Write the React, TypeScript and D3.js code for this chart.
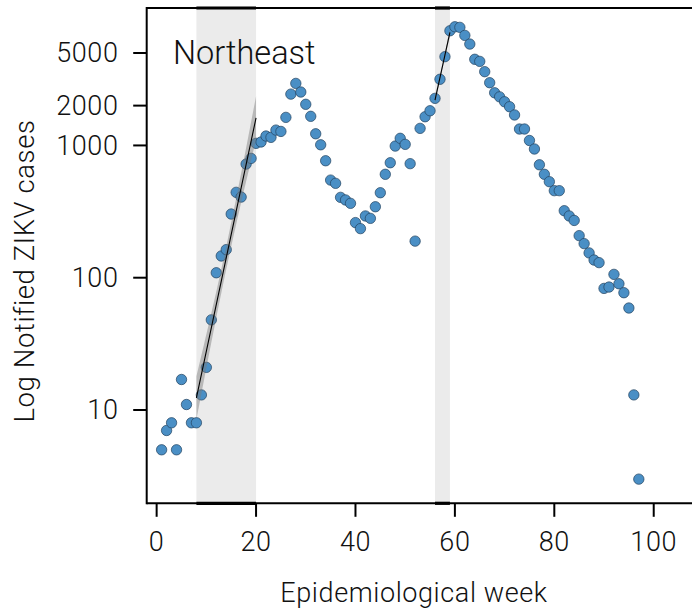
import React, { useEffect, useRef } from "react";
import * as d3 from "d3";

// ---- data ----
const weeks: number[] = d3.range(1, 98);
const cases: number[] = [
  5, 7, 8, 5, 17, 11, 8, 8, 13, 21,
  48, 109, 146, 163, 303, 442, 407, 723, 798, 1037,
  1062, 1178, 1151, 1306, 1276, 1630, 2443, 2944, 2534, 2046,
  1660, 1225, 1011, 766, 547, 517, 405, 387, 365, 261,
  235, 293, 281, 344, 439, 605, 740, 989, 1132, 1019,
  728, 189, 1346, 1648, 1829, 2270, 3164, 4688, 7360, 7890,
  7810, 6790, 5840, 4480, 4320, 3610, 2980, 2500, 2330, 2138,
  1962, 1700, 1331, 1331, 1090, 940, 714, 605, 532, 455,
  455, 321, 293, 271, 208, 181, 154, 136, 130, 83,
  85, 106, 90, 77, 59, 13, 3,
];
const fitStarts: number[] = [8, 56];
const fitEnds: number[] = [20, 59];
const xTicks: number[] = [0, 20, 40, 60, 80, 100];
const yTicks: number[] = [10, 100, 1000, 2000, 5000];
const regionLabel = "Northeast";
const xTitle = "Epidemiological week";
const yTitle = "Log Notified ZIKV cases";

const W = 692;
const H = 613;
const FONT = "Roboto, 'Liberation Sans', Arial, sans-serif";

export default function App() {
  const ref = useRef<SVGSVGElement | null>(null);

  useEffect(() => {
    const svg = d3.select(ref.current);
    svg.selectAll("*").remove();

    const left = 146.7, right = 692, top = 8, bottom = 503.3;
    const x = d3.scaleLinear().domain([-2, 107.7]).range([left, right]);
    const y = d3.scaleLog().domain([1.97, 10940]).range([bottom, top]);

    // shaded windows
    fitStarts.forEach((s, i) => {
      svg.append("rect")
        .attr("x", x(s)).attr("y", top)
        .attr("width", x(fitEnds[i]) - x(s)).attr("height", bottom - top)
        .attr("fill", "#ebebeb");
    });

    // points
    const data = weeks.map((w, i) => ({ w, c: cases[i] }));
    svg.append("g").selectAll("circle").data(data).join("circle")
      .attr("cx", (d) => x(d.w)).attr("cy", (d) => y(d.c)).attr("r", 5.2)
      .attr("fill", "#4a8fc5").attr("stroke", "#23425e").attr("stroke-width", 0.7);

    // regressions on log10 with 95% CI
    fitStarts.forEach((s, i) => {
      const e = fitEnds[i];
      const pts = data.filter((d) => d.w >= s && d.w <= e);
      const n = pts.length;
      const xm = d3.mean(pts, (d) => d.w) as number;
      const ym = d3.mean(pts, (d) => Math.log10(d.c)) as number;
      const sxx = d3.sum(pts, (d) => (d.w - xm) ** 2);
      const sxy = d3.sum(pts, (d) => (d.w - xm) * (Math.log10(d.c) - ym));
      const b = sxy / sxx;
      const a = ym - b * xm;
      const ssr = d3.sum(pts, (d) => (Math.log10(d.c) - (a + b * d.w)) ** 2);
      const se = Math.sqrt(ssr / (n - 2));
      const grid = d3.range(0, 41).map((k) => s + ((e - s) * k) / 40);
      const band = grid.map((g) => {
        const f = a + b * g;
        const h = 1.96 * se * Math.sqrt(1 / n + (g - xm) ** 2 / sxx);
        return { g, lo: Math.pow(10, f - h), hi: Math.pow(10, f + h), f: Math.pow(10, f) };
      });
      svg.append("path").datum(band)
        .attr("d", d3.area<any>().x((d) => x(d.g)).y0((d) => y(d.lo)).y1((d) => y(d.hi)))
        .attr("fill", "#7a7a7a").attr("opacity", 0.45);
      svg.append("path").datum(band)
        .attr("d", d3.line<any>().x((d) => x(d.g)).y((d) => y(d.f)))
        .attr("fill", "none").attr("stroke", "#000").attr("stroke-width", 1.1);
    });

    // frame
    const frame = svg.append("g").attr("stroke", "#000").attr("stroke-width", 2).attr("fill", "none");
    frame.append("line").attr("x1", left).attr("x2", right).attr("y1", top).attr("y2", top);
    frame.append("line").attr("x1", left).attr("x2", right).attr("y1", bottom).attr("y2", bottom);
    frame.append("line").attr("x1", left).attr("x2", left).attr("y1", top - 1).attr("y2", bottom + 1);
    fitStarts.forEach((s, i) => {
      [top, bottom].forEach((yy) => {
        svg.append("line").attr("x1", x(s)).attr("x2", x(fitEnds[i]))
          .attr("y1", yy).attr("y2", yy).attr("stroke", "#000").attr("stroke-width", 3.2);
      });
    });

    const label = (sel: any, size: number, spacing: number) =>
      sel.attr("font-family", FONT).attr("font-weight", 300).attr("font-size", size)
        .attr("letter-spacing", spacing).attr("fill", "#111");

    // x axis
    const xa = svg.append("g");
    xTicks.forEach((t) => {
      xa.append("line").attr("x1", x(t)).attr("x2", x(t)).attr("y1", bottom).attr("y2", bottom + 13.5)
        .attr("stroke", "#000").attr("stroke-width", 2);
      label(xa.append("text").attr("x", x(t)).attr("y", 550.5).attr("text-anchor", "middle"), 27, 0.6)
        .text(String(t));
    });
    // y axis
    const ya = svg.append("g");
    yTicks.forEach((t) => {
      ya.append("line").attr("x1", left - 13.5).attr("x2", left).attr("y1", y(t)).attr("y2", y(t))
        .attr("stroke", "#000").attr("stroke-width", 2);
      label(ya.append("text").attr("x", 118.5).attr("y", y(t) + 9.5).attr("text-anchor", "end"), 27, 0.6)
        .text(String(t));
    });

    label(svg.append("text").attr("x", 414).attr("y", 601.5).attr("text-anchor", "middle"), 27, 0.6)
      .text(xTitle);
    label(svg.append("text").attr("transform", "translate(33.5,271) rotate(-90)").attr("text-anchor", "middle"), 27.5, 0.6)
      .text(yTitle);
    label(svg.append("text").attr("x", 173).attr("y", 64), 32.5, 0).text(regionLabel);
  }, []);

  return (
    <svg ref={ref} width={W} height={H}
      style={{ position: "absolute", left: 0, top: 0, background: "#fff" }} />
  );
}
